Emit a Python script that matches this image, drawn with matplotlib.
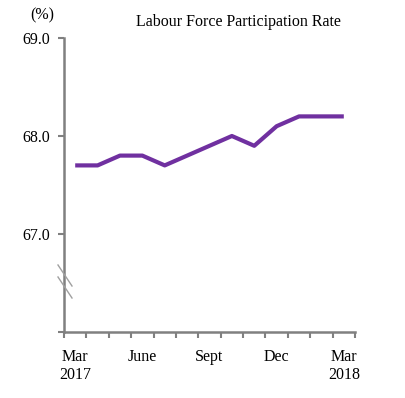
import matplotlib
matplotlib.use("Agg")
import matplotlib.pyplot as plt
from matplotlib.ticker import FixedLocator

months = ["Mar", "Apr", "May", "Jun", "Jul", "Aug", "Sep", "Oct", "Nov", "Dec", "Jan", "Feb", "Mar"]
rate = [67.7, 67.7, 67.8, 67.8, 67.7, 67.8, 67.9, 68.0, 67.9, 68.1, 68.2, 68.2, 68.2]
xtick_pos = [0, 3, 6, 9, 12]
xtick_labels = ["Mar\n2017", "June", "Sept", "Dec", "Mar\n2018"]
ytick_vals = [67.0, 68.0, 69.0]

plt.rcParams['font.family'] = ['Liberation Serif', 'DejaVu Serif']
grey = '#808080'
fs = 11.5

fig = plt.figure(figsize=(4.05, 3.98), dpi=100)
ax = fig.add_axes([64/405, 1 - 332/398, (355 - 64)/405, (332 - 38)/398])

x = list(range(len(rate)))
ax.plot(x, rate, color='#7030A0', lw=3, solid_capstyle='butt', solid_joinstyle='round')

ax.set_xlim(-0.5, len(rate) - 0.5)
ax.set_ylim(66, 69)

for s in ['top', 'right']:
    ax.spines[s].set_visible(False)
for s in ['left', 'bottom']:
    ax.spines[s].set_color(grey)
    ax.spines[s].set_linewidth(1.8)

ax.set_xticks(xtick_pos)
ax.set_xticklabels(xtick_labels, fontsize=fs, linespacing=1.2)
ax.tick_params(axis='x', which='major', length=0, pad=12)
ax.xaxis.set_minor_locator(FixedLocator([i - 0.5 for i in range(len(rate) + 1)]))
ax.tick_params(axis='x', which='minor', length=4, width=1.5, color=grey, direction='out')

ax.yaxis.set_major_locator(FixedLocator([66, 67, 68, 69]))
ax.set_yticklabels([""] + [f"{v:.1f}" for v in ytick_vals], fontsize=fs)
ax.tick_params(axis='y', length=4, width=1.5, color=grey, direction='out', pad=6)

# axis break marks
for y0 in [265, 277]:
    fig.add_artist(plt.Line2D([58/405, 72/405], [1 - y0/398, 1 - (y0 + 21)/398],
                              color='#a0a0a0', lw=1.0, transform=fig.transFigure))

fig.text(42/405, 1 - 15/398, "(%)", ha='center', va='center', fontsize=fs)
fig.text(238/405, 1 - 22/398, "Labour Force Participation Rate", ha='center', va='center', fontsize=fs)

fig.savefig("out.png", dpi=100)
